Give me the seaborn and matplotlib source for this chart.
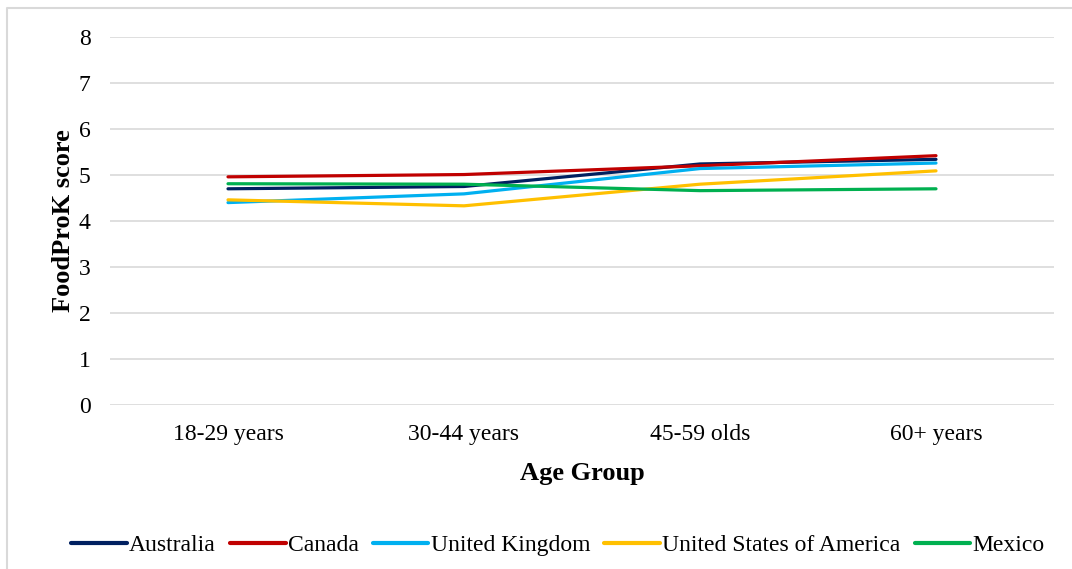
import matplotlib
matplotlib.use("Agg")
import matplotlib.pyplot as plt
import seaborn as sns
import pandas as pd

age_groups = ["18-29 years", "30-44 years", "45-59 olds", "60+ years"]
countries = ["Australia", "Canada", "United Kingdom", "United States of America", "Mexico"]
australia = [4.70, 4.75, 5.24, 5.34]
canada = [4.96, 5.01, 5.20, 5.42]
united_kingdom = [4.40, 4.59, 5.14, 5.26]
usa = [4.46, 4.33, 4.80, 5.09]
mexico = [4.81, 4.80, 4.66, 4.70]
palette = ["#002060", "#C00000", "#00B0F0", "#FFC000", "#00B050"]

series = [australia, canada, united_kingdom, usa, mexico]
rows = []
for country, vals in zip(countries, series):
    for i, (grp, v) in enumerate(zip(age_groups, vals)):
        rows.append({"Country": country, "pos": i, "Age Group": grp, "score": v})
df = pd.DataFrame(rows)

sns.set_theme(style="white")
plt.rcParams["font.family"] = ["Liberation Serif", "DejaVu Serif"]

W, H = 1072, 569
fig = plt.figure(figsize=(W / 100, H / 100), dpi=100)
ax = fig.add_axes([110 / W, 1 - 405 / H, (1054 - 110) / W, (405 - 37) / H])

sns.lineplot(data=df, x="pos", y="score", hue="Country", hue_order=countries,
             palette=palette, linewidth=2.3, ax=ax, legend=False, zorder=3)

ax.set_xlim(-0.5, 3.5)
ax.set_ylim(0, 8)
ax.set_yticks(range(0, 9))
ax.set_xticks(range(len(age_groups)))
ax.set_xticklabels(age_groups)
ax.tick_params(axis="both", length=0, labelsize=17, colors="black")
ax.tick_params(axis="y", pad=14)
ax.tick_params(axis="x", pad=14)
ax.yaxis.grid(True, color="#d9d9d9", linewidth=1.2)
ax.xaxis.grid(False)
for s in ax.spines.values():
    s.set_visible(False)
ax.set_xlabel("Age Group", fontsize=19, fontweight="bold", labelpad=12, color="black")
ax.set_ylabel("FoodProK score", fontsize=19, fontweight="bold", labelpad=3, color="black")

handles = [plt.Line2D([], [], color=c, linewidth=3) for c in palette]
fig.legend(handles, countries, loc="center", bbox_to_anchor=(558 / W, 1 - 545 / H),
           ncol=5, frameon=False, fontsize=17, handlelength=2.35, handletextpad=0.1,
           columnspacing=0.6, labelcolor="black")

# light frame along the top and left edges of the figure
fig.add_artist(plt.Line2D([6.5 / W, 6.5 / W, 1], [0, 1 - 7.5 / H, 1 - 7.5 / H],
                          transform=fig.transFigure, color="#d9d9d9", linewidth=1.5))

fig.savefig("out.png", dpi=100)
